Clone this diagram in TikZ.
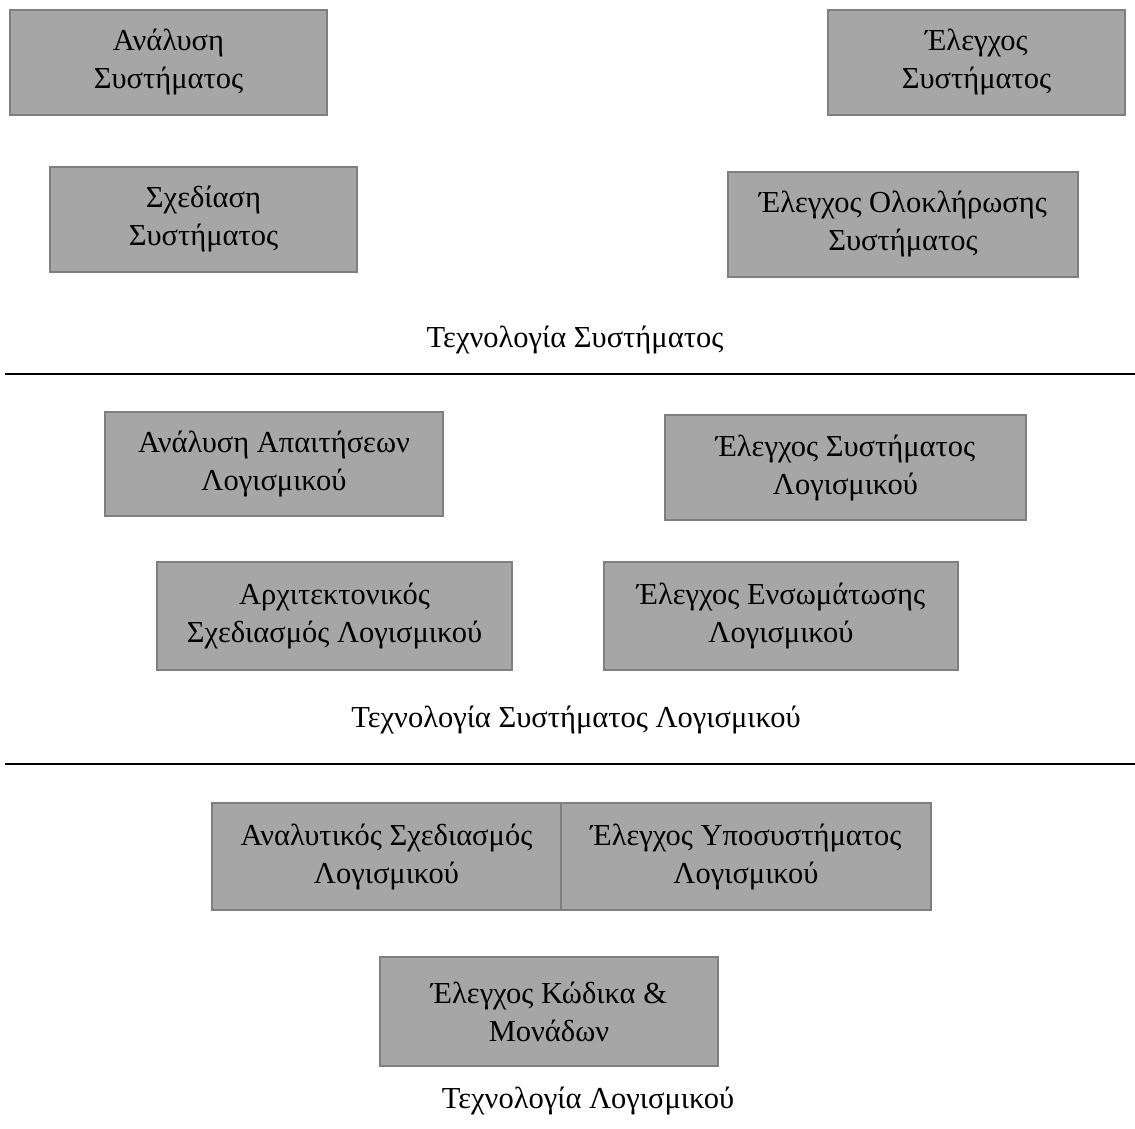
\documentclass[tikz,border=0pt]{standalone}
\usepackage{fontspec}
\setmainfont{Liberation Serif}
\definecolor{boxfill}{HTML}{A6A6A6}
\definecolor{boxline}{HTML}{7F7F7F}
\begin{document}
\begin{tikzpicture}[x=1pt,y=-1pt,
  box/.style={draw=boxline,line width=2pt,fill=boxfill,inner sep=0pt,align=center,
    font=\fontsize{30.5}{38}\selectfont},
  lbl/.style={inner sep=0pt,font=\fontsize{30.5}{38}\selectfont},
  sep/.style={line width=2pt,black}]
\useasboundingbox (0,0) rectangle (1135,1128);
% Technology of system
\node[box,minimum width=317pt,minimum height=105pt] (a1) at (168.5,62.5) {Ανάλυση\\Συστήματος};
\node[box,minimum width=297pt,minimum height=105pt] (a2) at (976.5,62.5) {Έλεγχος\\Συστήματος};
\node[box,minimum width=307pt,minimum height=105pt] (a3) at (203.5,219.5) {Σχεδίαση\\Συστήματος};
\node[box,minimum width=350pt,minimum height=105pt] (a4) at (903,224.5) {Έλεγχος Ολοκλήρωσης\\Συστήματος};
\node[lbl] (l1) at (575,340) {Τεχνολογία Συστήματος};
\coordinate (s1a) at (5,374);
\coordinate (s1b) at (1135,374);
\draw[sep] (s1a) -- (s1b);
% Software system technology
\node[box,minimum width=338pt,minimum height=104pt] (b1) at (274,464) {Ανάλυση Απαιτήσεων\\Λογισμικού};
\node[box,minimum width=361pt,minimum height=105pt] (b2) at (845.5,467.5) {Έλεγχος Συστήματος\\Λογισμικού};
\node[box,minimum width=355pt,minimum height=108pt] (b3) at (334.5,616) {Αρχιτεκτονικός\\Σχεδιασμός Λογισμικού};
\node[box,minimum width=354pt,minimum height=108pt] (b4) at (781,616) {Έλεγχος Ενσωμάτωσης\\Λογισμικού};
\node[lbl] (l2) at (576,720) {Τεχνολογία Συστήματος Λογισμικού};
\coordinate (s2a) at (5,764);
\coordinate (s2b) at (1135,764);
\draw[sep] (s2a) -- (s2b);
% Software technology
\node[box,minimum width=349pt,minimum height=107pt] (c1) at (386.5,856.5) {Αναλυτικός Σχεδιασμός\\Λογισμικού};
\node[box,minimum width=370pt,minimum height=107pt] (c2) at (746,856.5) {Έλεγχος Υποσυστήματος\\Λογισμικού};
\node[box,minimum width=338pt,minimum height=109pt] (c3) at (549,1011.5) {Έλεγχος Κώδικα \&\\Μονάδων};
\node[lbl] (l3) at (588,1101) {Τεχνολογία Λογισμικού};
\end{tikzpicture}
\end{document}
